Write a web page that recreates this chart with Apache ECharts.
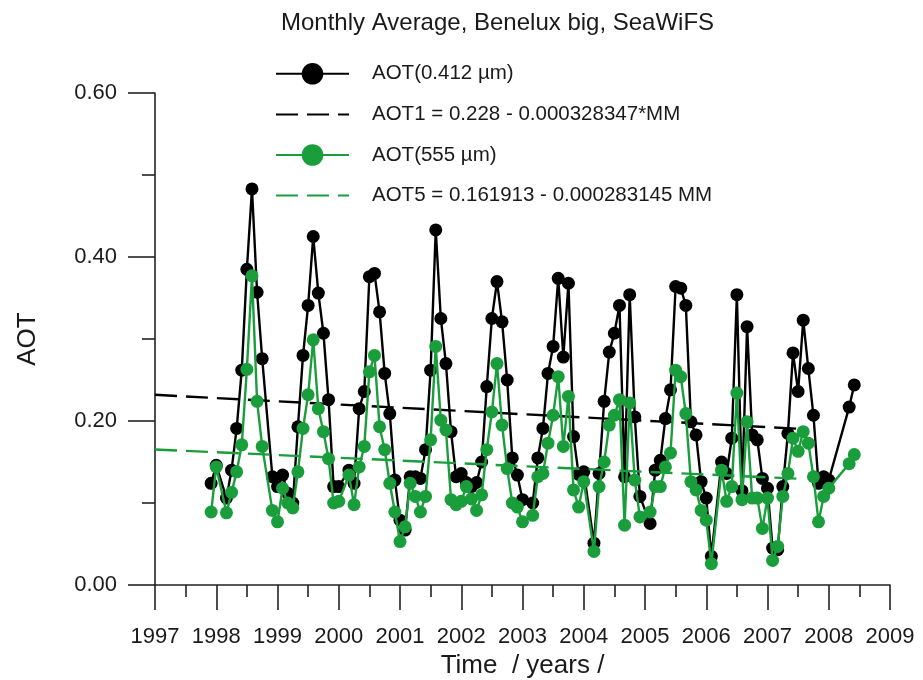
<!DOCTYPE html>
<html>
<head>
<meta charset="utf-8">
<script src="https://cdn.jsdelivr.net/npm/echarts@6/dist/echarts.min.js"></script>
<style>
html,body{margin:0;padding:0;background:#fff;}
#chart{width:923px;height:680px;}
</style>
</head>
<body>
<div id="chart"></div>
<script>
// first month of the series (monthly means, x = year + month/12)
const startYear = 1997;
const startMonth = 11;

// AOT at 0.412 µm, monthly averages from Nov 1997 (null = no data)
const aot412 = [
  0.124, 0.146, null, 0.106, 0.140, 0.191, 0.262, 0.385, 0.483, 0.357, 0.276, null,
  0.132, 0.120, 0.134, 0.112, 0.100, 0.193, 0.280, 0.341, 0.425, 0.356, 0.307, 0.226,
  0.120, 0.120, null, 0.140, 0.124, 0.215, 0.236, 0.376, 0.380, 0.333, 0.258, 0.209,
  0.128, 0.079, 0.067, 0.132, 0.132, 0.130, 0.165, 0.262, 0.433, 0.325, 0.270, 0.187,
  0.132, 0.136, 0.125, 0.120, 0.125, 0.150, 0.242, 0.325, 0.370, 0.321, 0.250, 0.155,
  0.134, 0.104, null, 0.100, 0.155, 0.191, 0.258, 0.291, 0.374, 0.278, 0.368, 0.181,
  0.135, 0.138, null, 0.051, 0.136, 0.224, 0.284, 0.307, 0.341, 0.132, 0.354, 0.205,
  0.108, null, 0.075, 0.140, 0.152, 0.203, 0.238, 0.364, 0.362, 0.341, 0.199, 0.183,
  0.126, 0.106, 0.035, null, 0.150, 0.136, 0.179, 0.354, 0.115, 0.315, 0.183, 0.177,
  0.130, 0.118, 0.045, 0.043, 0.120, 0.185, 0.283, 0.236, 0.323, 0.264, 0.207, 0.124,
  0.132, 0.128, null, null, null, 0.217, 0.244
];

// AOT at 555 µm, same months
const aot555 = [
  0.089, 0.144, null, 0.088, 0.113, 0.138, 0.171, 0.263, 0.377, 0.224, 0.169, null,
  0.091, 0.077, 0.118, 0.100, 0.094, 0.138, 0.191, 0.232, 0.299, 0.215, 0.187, 0.154,
  0.100, 0.102, null, 0.134, 0.098, 0.144, 0.169, 0.260, 0.280, 0.193, 0.165, 0.124,
  0.089, 0.053, 0.071, 0.124, 0.108, 0.089, 0.108, 0.177, 0.291, 0.201, 0.189, 0.104,
  0.098, 0.102, 0.120, 0.105, 0.091, 0.110, 0.165, 0.211, 0.270, 0.195, 0.142, 0.100,
  0.095, 0.077, null, 0.085, 0.132, 0.136, 0.173, 0.207, 0.254, 0.169, 0.230, 0.116,
  0.095, 0.126, null, 0.041, 0.120, 0.150, 0.195, 0.207, 0.226, 0.073, 0.222, 0.128,
  0.083, null, 0.089, 0.120, 0.120, 0.144, 0.161, 0.262, 0.254, 0.209, 0.126, 0.116,
  0.091, 0.079, 0.026, null, 0.140, 0.102, 0.120, 0.234, 0.104, 0.199, 0.106, 0.106,
  0.069, 0.106, 0.030, 0.047, 0.108, 0.136, 0.179, 0.163, 0.187, 0.173, 0.132, 0.077,
  0.108, 0.118, null, null, null, 0.148, 0.159
];

// linear trends, AOT = a - b*MM, MM = months since Jan 1998
const trend412 = { a: 0.228, b: 0.000328347 };
const trend555 = { a: 0.161913, b: 0.000283145 };
const trendOrigin = 1998;
const trendRange = [1997, 2007.5];

// axis ticks
const xTicks = { min: 1997, max: 2009, step: 1 };
const yTicks = { min: 0, max: 0.6, step: 0.2 };

const names = [
  'AOT(0.412 µm)',
  'AOT1 = 0.228 - 0.000328347*MM',
  'AOT(555 µm)',
  'AOT5 = 0.161913 - 0.000283145 MM'
];

function toPairs(vals) {
  const out = [];
  vals.forEach((v, i) => {
    if (v === null) return;
    const m = startMonth + i;
    out.push([startYear + m / 12, v]);
  });
  return out;
}
function trendPairs(t) {
  return trendRange.map(x => [x, t.a - t.b * (x - trendOrigin) * 12]);
}

const BLACK = '#000000';
const GREEN = '#1a9e3c';
const FONT = 'Liberation Sans, Arial, Helvetica, sans-serif';
const AX = '#222222';

const chart = echarts.init(document.getElementById('chart'), null, { renderer: 'canvas' });
chart.setOption({
  animation: false,
  backgroundColor: '#ffffff',
  title: {
    text: 'Monthly Average, Benelux big, SeaWiFS',
    left: 276, top: 6,
    textStyle: { fontFamily: FONT, fontSize: 24, fontWeight: 'normal', color: '#1a1a1a' }
  },
  legend: {
    orient: 'vertical',
    left: 270, top: 58,
    itemWidth: 73, itemHeight: 27, itemGap: 19,
    textStyle: { fontFamily: FONT, fontSize: 20.5, color: '#1a1a1a', padding: [0, 0, 0, 18] },
    data: [
      { name: names[0] },
      { name: names[1], itemStyle: { opacity: 0 } },
      { name: names[2] },
      { name: names[3], itemStyle: { opacity: 0 } }
    ]
  },
  grid: { left: 155, right: 33, top: 93, bottom: 95, containLabel: false, outerBoundsMode: 'none' },
  xAxis: {
    type: 'value',
    min: xTicks.min, max: xTicks.max, interval: xTicks.step,
    name: 'Time  / years /',
    nameLocation: 'middle', nameGap: 64,
    nameTextStyle: { fontFamily: FONT, fontSize: 26, color: '#1a1a1a' },
    axisLine: { show: true, onZero: false, lineStyle: { color: AX, width: 1.6 } },
    axisTick: { show: true, length: 25, lineStyle: { color: AX, width: 1.6 } },
    minorTick: { show: true, splitNumber: 2, length: 12, lineStyle: { color: AX, width: 1.6 } },
    splitLine: { show: false },
    axisLabel: {
      margin: 41, fontFamily: FONT, fontSize: 22, color: '#1a1a1a',
      formatter: v => String(Math.round(v))
    }
  },
  yAxis: {
    type: 'value',
    min: yTicks.min, max: yTicks.max, interval: yTicks.step,
    name: 'AOT',
    nameLocation: 'middle', nameGap: 114,
    nameTextStyle: { fontFamily: FONT, fontSize: 26, color: '#1a1a1a' },
    axisLine: { show: true, lineStyle: { color: AX, width: 1.6 } },
    axisTick: { show: true, length: 27, lineStyle: { color: AX, width: 1.6 } },
    minorTick: { show: true, splitNumber: 2, length: 13, lineStyle: { color: AX, width: 1.6 } },
    splitLine: { show: false },
    axisLabel: {
      margin: 38, fontFamily: FONT, fontSize: 22, color: '#1a1a1a',
      formatter: v => v.toFixed(2)
    }
  },
  series: [
    {
      name: names[0], type: 'line', data: toPairs(aot412),
      symbol: 'circle', symbolSize: 13, showAllSymbol: true,
      itemStyle: { color: BLACK },
      lineStyle: { color: BLACK, width: 2.4 },
      z: 2
    },
    {
      name: names[1], type: 'line', data: trendPairs(trend412),
      symbol: 'none',
      itemStyle: { color: BLACK },
      lineStyle: { color: BLACK, width: 2.4, type: [22, 9] },
      z: 3
    },
    {
      name: names[2], type: 'line', data: toPairs(aot555),
      symbol: 'circle', symbolSize: 13, showAllSymbol: true,
      itemStyle: { color: GREEN },
      lineStyle: { color: GREEN, width: 2.4 },
      z: 4
    },
    {
      name: names[3], type: 'line', data: trendPairs(trend555),
      symbol: 'none',
      itemStyle: { color: GREEN },
      lineStyle: { color: GREEN, width: 2.4, type: [22, 9] },
      z: 5
    }
  ]
});
</script>
</body>
</html>
